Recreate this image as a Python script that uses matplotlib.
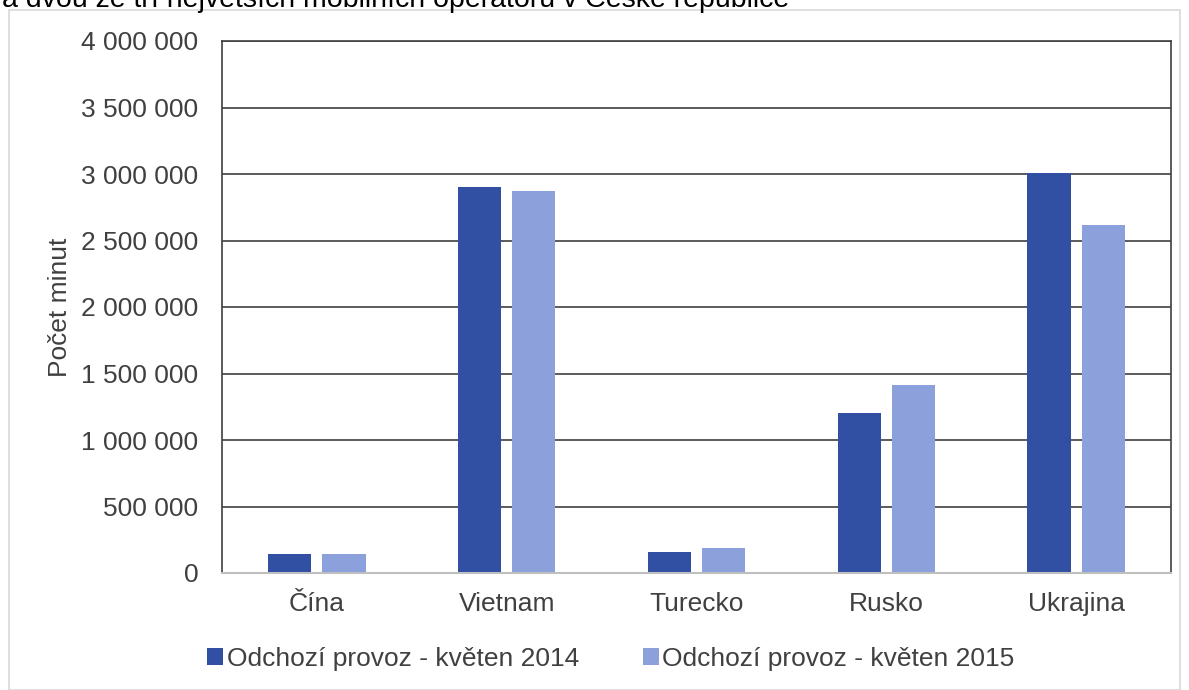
import matplotlib
matplotlib.use("Agg")
import matplotlib.pyplot as plt
import numpy as np
from matplotlib.patches import Rectangle

plt.rcParams['font.family'] = ['Liberation Sans', 'DejaVu Sans']

categories = ["Čína", "Vietnam", "Turecko", "Rusko", "Ukrajina"]
series_2014 = [145000, 2900000, 160000, 1200000, 3010000]
series_2015 = [145000, 2870000, 190000, 1415000, 2620000]
labels = ["Odchozí provoz - květen 2014", "Odchozí provoz - květen 2015"]
yticks = [0, 500000, 1000000, 1500000, 2000000, 2500000, 3000000, 3500000, 4000000]
title_text = "a dvou ze tří největších mobilních operátorů v České republice"

W, H = 1189, 690
FS = 19
fig = plt.figure(figsize=(W / 100, H / 100), dpi=100)

# outer chart border
fig.patches.append(Rectangle((9 / W, 0), (1180 - 9) / W, (H - 10) / H,
                             transform=fig.transFigure, fill=False,
                             edgecolor='#d9d9d9', linewidth=1.2))

# caption text at top (cut by the image edge in the reference)
fig.text(2 / W, 1 - 7 / H, title_text, fontsize=20.5, color='black',
         va='baseline', ha='left')

ax = fig.add_axes([222 / W, 1 - 573 / H, (1171 - 222) / W, (573 - 41) / H])

x = np.arange(len(categories))
bw = 0.227
off = 0.143
ax.bar(x - off, series_2014, bw, color='#3150a3', label=labels[0], zorder=3)
ax.bar(x + off, series_2015, bw, color='#8ca1dc', label=labels[1], zorder=3)

ax.set_xlim(-0.5, len(categories) - 0.5)
ax.set_ylim(0, 4000000)
ax.set_yticks(yticks)
ax.set_yticklabels([f"{v:,}".replace(",", " ") for v in yticks])
ax.set_xticks(x)
ax.set_xticklabels(categories)
ax.tick_params(axis='both', length=0, labelsize=FS, colors='#404040')
ax.tick_params(axis='y', pad=17)
ax.tick_params(axis='x', pad=14)
ax.yaxis.grid(True, color='#404040', linewidth=1.2, zorder=0)
for side in ['left', 'right', 'top']:
    ax.spines[side].set_color('#404040')
    ax.spines[side].set_linewidth(1.2)
ax.spines['bottom'].set_color('#bfbfbf')
ax.spines['bottom'].set_linewidth(1.5)
ax.spines['bottom'].set_zorder(4)

fig.text(60 / W, 1 - 307 / H, "Počet minut", rotation=90, fontsize=FS,
         color='#404040', ha='center', va='center')

leg = fig.legend(loc='center', bbox_to_anchor=(611 / W, 1 - 659 / H), ncol=2,
                 frameon=False, fontsize=FS, handlelength=0.6, handleheight=0.6,
                 handletextpad=0.15, columnspacing=2.4, labelcolor='#404040')

fig.savefig("out.png", dpi=100)
